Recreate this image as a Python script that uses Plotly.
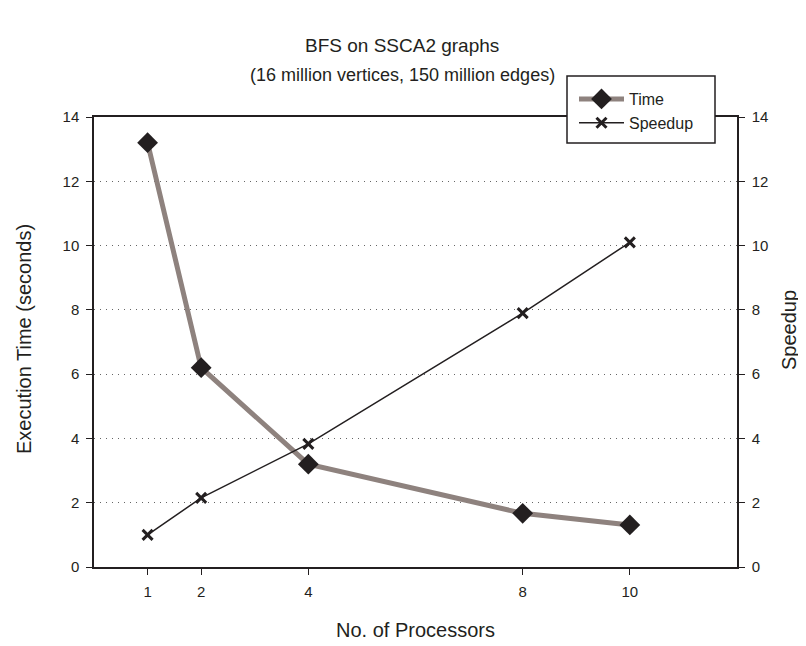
import plotly.graph_objects as go

processors = [1, 2, 4, 8, 10]
exec_time = [13.2, 6.2, 3.2, 1.67, 1.31]
speedup = [1.0, 2.15, 3.83, 7.9, 10.1]
x_ticks = [1, 2, 4, 8, 10]
y_ticks = [0, 2, 4, 6, 8, 10, 12, 14]

FONT = "Liberation Sans, Arial, sans-serif"
INK = "#231f20"

# page offset from default body margin
OFF = 8
W, H = 806 - OFF, 646 - OFF
# plot area in page pixels
P_L, P_R, P_T, P_B = 94, 737, 117, 567
plot_l, plot_r, plot_t, plot_b = P_L - OFF, P_R - OFF, P_T - OFF, P_B - OFF
pw, ph = plot_r - plot_l, plot_b - plot_t
def px_x(px):
    return (px - OFF - plot_l) / pw
def px_y(py):
    return (plot_b - (py - OFF)) / ph

fig = go.Figure()
fig.add_trace(go.Scatter(
    x=processors, y=exec_time, name="Time", mode="lines+markers",
    line=dict(color="#8e827e", width=5),
    marker=dict(symbol="diamond", size=16, color=INK),
    yaxis="y"))
fig.add_trace(go.Scatter(
    x=processors, y=speedup, name="Speedup", mode="lines+markers",
    line=dict(color=INK, width=1.5),
    marker=dict(symbol="x-thin", size=10, color=INK,
                line=dict(color=INK, width=3)),
    yaxis="y2"))

axis_common = dict(showline=True, linecolor=INK, linewidth=1.5,
                   ticks="outside", ticklen=6, tickcolor=INK, tickwidth=1,
                   tickfont=dict(family=FONT, size=15, color=INK),
                   zeroline=False, automargin=False)

fig.update_layout(
    width=W, height=H,
    paper_bgcolor="white", plot_bgcolor="white",
    margin=dict(l=plot_l, r=W - plot_r, t=plot_t, b=H - plot_b),
    font=dict(family=FONT, color=INK),
    xaxis=dict(range=[0, 12], tickvals=x_ticks, showgrid=False, mirror=True,
               ticklabelstandoff=4, **axis_common),
    yaxis=dict(range=[0, 14], tickvals=y_ticks, showgrid=True,
               gridcolor="#666666", griddash="1px,5px", gridwidth=1,
               ticklabelstandoff=4, **axis_common),
    yaxis2=dict(range=[0, 14], tickvals=y_ticks, overlaying="y", side="right",
                showgrid=False, ticklabelstandoff=4, **axis_common),
    showlegend=True,
    legend=dict(x=px_x(574), y=px_y(82), xanchor="left", yanchor="top",
                xref="paper", yref="paper",
                bgcolor="rgba(0,0,0,0)", borderwidth=0,
                itemwidth=45,
                font=dict(family=FONT, size=16, color=INK)),
    shapes=[dict(type="rect", xref="paper", yref="paper",
                 x0=px_x(567), x1=px_x(715), y0=px_y(143), y1=px_y(76),
                 fillcolor="white", line=dict(color=INK, width=1.5),
                 layer="above")],
    annotations=[
        dict(text="BFS on SSCA2 graphs", x=px_x(402), y=px_y(45),
             xref="paper", yref="paper", showarrow=False, yanchor="middle",
             font=dict(size=19, family=FONT, color=INK)),
        dict(text="(16 million vertices, 150 million edges)", x=px_x(402), y=px_y(75),
             xref="paper", yref="paper", showarrow=False, yanchor="middle",
             font=dict(size=18, family=FONT, color=INK)),
        dict(text="No. of Processors", x=px_x(415), y=px_y(630),
             xref="paper", yref="paper", showarrow=False, yanchor="middle",
             font=dict(size=20, family=FONT, color=INK)),
        dict(text="Execution Time (seconds)", x=px_x(24), y=px_y(339),
             xref="paper", yref="paper", showarrow=False, textangle=-90,
             xanchor="center", yanchor="middle",
             font=dict(size=20, family=FONT, color=INK)),
        dict(text="Speedup", x=px_x(789), y=px_y(330),
             xref="paper", yref="paper", showarrow=False, textangle=-90,
             xanchor="center", yanchor="middle",
             font=dict(size=20, family=FONT, color=INK)),
    ],
)

fig.write_html("out.html")
